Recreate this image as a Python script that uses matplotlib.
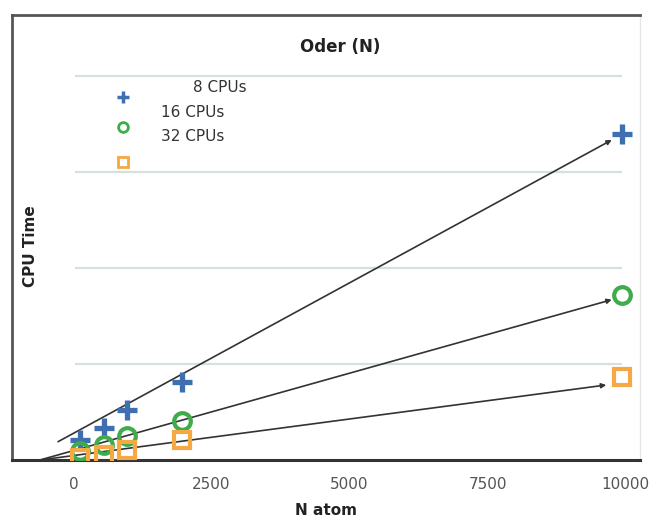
import matplotlib.pyplot as plt
import numpy as np

# N atom values and CPU time (arbitrary units, gridline = 1)
n_atom = [120, 560, 970, 1970, 9940]
cpu_8 = [0.21, 0.33, 0.52, 0.81, 3.39]
cpu_16 = [0.09, 0.16, 0.25, 0.41, 1.72]
cpu_32 = [0.02, 0.05, 0.10, 0.21, 0.86]

labels = ['8 CPUs', '16 CPUs', '32 CPUs']
colors = ['#3d6fb1', '#3fab4b', '#f5a843']

# trend lines: slope, intercept and x range
fit_slope = [0.000313, 0.000161, 0.0000761]
fit_icept = [0.278, 0.098, 0.046]
fit_start = [-280, -607, -607]
fit_end = [9750, 9750, 9650]

xticks = [0, 2500, 5000, 7500, 10000]

fig = plt.figure(figsize=(6.51, 5.27), dpi=100)
ax = fig.add_axes([12 / 651, 67 / 527, 628 / 651, 445 / 527])
ax.set_xlim(-1114, 10262)
ax.set_ylim(0, 4.63)

# light grid lines
ax.hlines([1, 2, 3, 4], 30, 9940, color='#d6e0dc', lw=1.6, zorder=1)

# trend lines with small arrow heads
for k, b, x0, x1 in zip(fit_slope, fit_icept, fit_start, fit_end):
    ax.annotate('', xy=(x1, k * x1 + b), xytext=(x0, max(k * x0 + b, 0)),
                arrowprops=dict(arrowstyle='-|>', color='#333333', lw=1.2,
                                mutation_scale=7, shrinkA=0, shrinkB=0),
                zorder=2)

# data points
ax.plot(n_atom, cpu_8, linestyle='none', marker='+', ms=14, mew=3.8,
        color=colors[0], zorder=3)
ax.plot(n_atom, cpu_16, linestyle='none', marker='o', ms=12, mew=3,
        mfc='none', color=colors[1], zorder=3)
ax.plot(n_atom, cpu_32, linestyle='none', marker='s', ms=12, mew=3,
        mfc='none', color=colors[2], zorder=3)

# hand-made legend
ax.plot(0.176, 0.815, marker='+', ms=9, mew=2.5, color=colors[0],
        transform=ax.transAxes)
ax.plot(0.176, 0.748, marker='o', ms=7, mew=2, mfc='none', color=colors[1],
        transform=ax.transAxes)
ax.plot(0.176, 0.670, marker='s', ms=7, mew=2, mfc='none', color=colors[2],
        transform=ax.transAxes)
ax.text(0.288, 0.836, labels[0], transform=ax.transAxes, fontsize=11,
        color='#333333', va='center')
ax.text(0.237, 0.782, labels[1], transform=ax.transAxes, fontsize=11,
        color='#333333', va='center')
ax.text(0.237, 0.726, labels[2], transform=ax.transAxes, fontsize=11,
        color='#333333', va='center')

ax.text(0.522, 0.928, 'Oder (N)', transform=ax.transAxes, fontsize=12,
        fontweight='bold', color='#222222', ha='center', va='center')
ax.text(0.03, 0.48, 'CPU Time', transform=ax.transAxes, fontsize=11,
        fontweight='bold', color='#222222', rotation=90, ha='center', va='center')

ax.set_xticks(xticks)
ax.set_xticklabels([str(t) for t in xticks], fontsize=11, color='#555555')
ax.tick_params(axis='x', length=0, pad=12)
ax.set_yticks([])
ax.set_xlabel('N atom', fontsize=11, fontweight='bold', color='#222222', labelpad=8)

for side in ['left', 'top']:
    ax.spines[side].set_color('#555555')
    ax.spines[side].set_linewidth(2)
ax.spines['bottom'].set_color('#333333')
ax.spines['bottom'].set_linewidth(2.2)
ax.spines['right'].set_color('#e6e6e6')
ax.spines['right'].set_linewidth(1)

fig.savefig('out.png', dpi=100)
